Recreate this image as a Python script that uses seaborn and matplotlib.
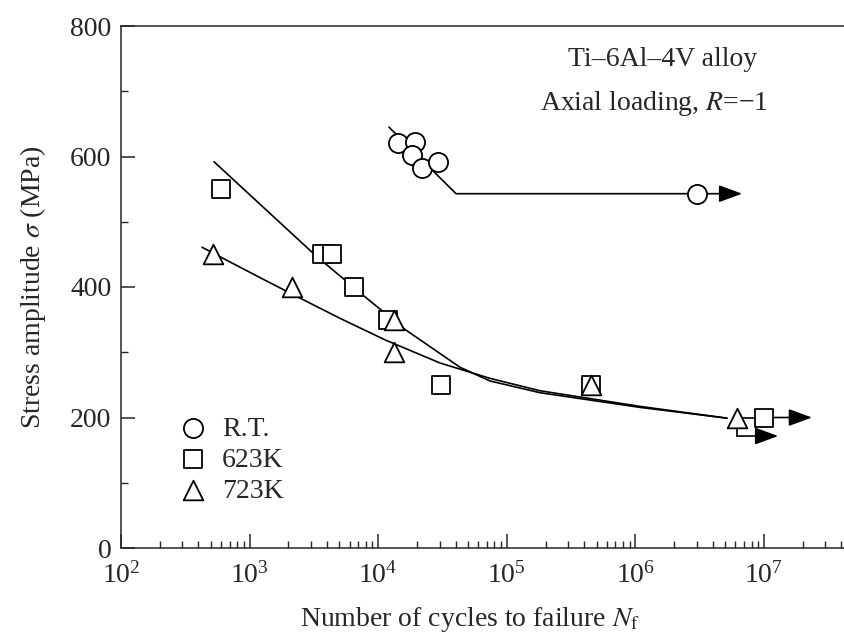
import numpy as np
import pandas as pd
import matplotlib
matplotlib.use("Agg")
import matplotlib.pyplot as plt
import matplotlib.ticker as mticker
import seaborn as sns

# ---------------- data ----------------
rt_N = [14300, 19300, 18300, 21900, 29200, 3.0e6]
rt_S = [620, 622, 602, 582, 592, 543]

k623_N = [600, 3660, 4380, 6480, 11900, 30800, 452000, 1.0e7]
k623_S = [550, 450, 450, 400, 350, 250, 250, 200]

k723_N = [518, 2140, 13300, 13300, 452000, 6.17e6]
k723_S = [450, 400, 350, 300, 250, 200]

# fitted curves (log10 N, stress)
rt_curve_logN = [4.084, 4.605, 6.479]
rt_curve_S = [645, 543, 543]

c623_logN = [2.723, 3.509, 3.897, 4.208, 4.636, 4.869, 5.258, 6.036, 6.712]
c623_S = [592, 449, 385, 335, 277, 256, 238, 215.5, 199]

c723_logN = [2.630, 2.793, 3.104, 3.392, 3.703, 4.053, 4.481, 4.737, 4.869, 5.258, 6.036, 6.712]
c723_S = [461, 444, 412, 383, 352, 319, 283.5, 268, 260, 241, 217, 199]

# run-out arrows: (start N, start S, tip N, tip S)
runout_rt = (3.0e6, 543, 10**6.83, 543)
runout_623 = (1.0e7, 200, 10**7.373, 200)
runout_723_drop = ([6.17e6, 6.17e6], [200, 171.6])
runout_723 = (6.17e6, 171.6, 10**7.11, 171.6)
link_723_623 = ([6.17e6, 1.0e7], [200, 200])

xticks = [1e2, 1e3, 1e4, 1e5, 1e6, 1e7]
yticks = [0, 200, 400, 600, 800]

# ---------------- style ----------------
sns.set_style("ticks")
plt.rcParams['font.family'] = ['Liberation Serif', 'DejaVu Serif']
plt.rcParams['mathtext.fontset'] = 'stix'
plt.rcParams['axes.linewidth'] = 1.1

FS = 20
fig = plt.figure(figsize=(8.44, 6.35), dpi=100)
ax = fig.add_axes([121 / 844, 1 - 548 / 635, (844 - 121) / 844, (548 - 26) / 635])

lw = 1.2
line_kw = dict(color='black', linewidth=lw, sort=False, estimator=None, legend=False, ax=ax, zorder=2)

df_rt_c = pd.DataFrame({'N': 10 ** np.array(rt_curve_logN), 'S': rt_curve_S})
df_623_c = pd.DataFrame({'N': 10 ** np.array(c623_logN), 'S': c623_S})
df_723_c = pd.DataFrame({'N': 10 ** np.array(c723_logN), 'S': c723_S})
sns.lineplot(data=df_rt_c, x='N', y='S', **line_kw)
sns.lineplot(data=df_623_c, x='N', y='S', **line_kw)
sns.lineplot(data=df_723_c, x='N', y='S', **line_kw)

# run-out connectors
sns.lineplot(x=runout_723_drop[0], y=runout_723_drop[1], **line_kw)
sns.lineplot(x=link_723_623[0], y=link_723_623[1], **line_kw)

arrow_props = dict(arrowstyle='-|>,head_length=0.6,head_width=0.22', color='black',
                   lw=lw, mutation_scale=24, shrinkA=0, shrinkB=0)
for (x0, y0, x1, y1) in [runout_rt, runout_623, runout_723]:
    ax.annotate('', xy=(x1, y1), xytext=(x0, y0), arrowprops=arrow_props, zorder=1)

mk_kw = dict(facecolor='white', edgecolor='black', linewidth=1.3, ax=ax, zorder=3)
sns.scatterplot(x=rt_N, y=rt_S, marker='o', s=190, label='R.T.', **mk_kw)
sns.scatterplot(x=k623_N, y=k623_S, marker='s', s=170, label='623K', **mk_kw)
sns.scatterplot(x=k723_N, y=k723_S, marker='^', s=200, label='723K', **mk_kw)

ax.set_xscale('log')
ax.set_xlim(100, 10 ** 7.622)
ax.set_ylim(0, 800)
ax.set_xticks(xticks)
ax.xaxis.set_major_formatter(mticker.LogFormatterMathtext())
ax.xaxis.set_minor_locator(mticker.LogLocator(base=10, subs=np.arange(2, 10), numticks=20))
ax.xaxis.set_minor_formatter(mticker.NullFormatter())
ax.set_yticks(yticks)
ax.yaxis.set_minor_locator(mticker.MultipleLocator(100))

ax.tick_params(which='major', direction='in', length=10, width=1.1, labelsize=FS,
               top=False, right=False)
ax.tick_params(axis='x', which='major', pad=10)
ax.tick_params(axis='y', which='major', pad=7)
ax.tick_params(which='minor', direction='in', length=5, width=1.0, top=False, right=False)
ax.spines['right'].set_visible(False)

ax.set_xlabel(r'Number of cycles to failure $N_{\mathrm{f}}$', fontsize=FS)
ax.xaxis.set_label_coords((470 - 121) / 723, -(605 - 548) / 522)
ax.set_ylabel(r'Stress amplitude $\sigma$ (MPa)', fontsize=FS, labelpad=16)

ax.text((663 - 121) / 723, 1 - (60 - 26) / 522, 'Ti–6Al–4V alloy', transform=ax.transAxes,
        ha='center', va='center', fontsize=FS)
ax.text((768 - 121) / 723, 1 - (103 - 26) / 522, r'Axial loading, $R$=−1', transform=ax.transAxes,
        ha='right', va='center', fontsize=FS)

leg = ax.legend(loc='upper left', bbox_to_anchor=((168 - 121) / 723, 1 - (405 - 26) / 522),
                frameon=False, fontsize=FS, handletextpad=0.55, labelspacing=0.2,
                borderaxespad=0, handlelength=1.0)

fig.savefig('out.png', dpi=100)
